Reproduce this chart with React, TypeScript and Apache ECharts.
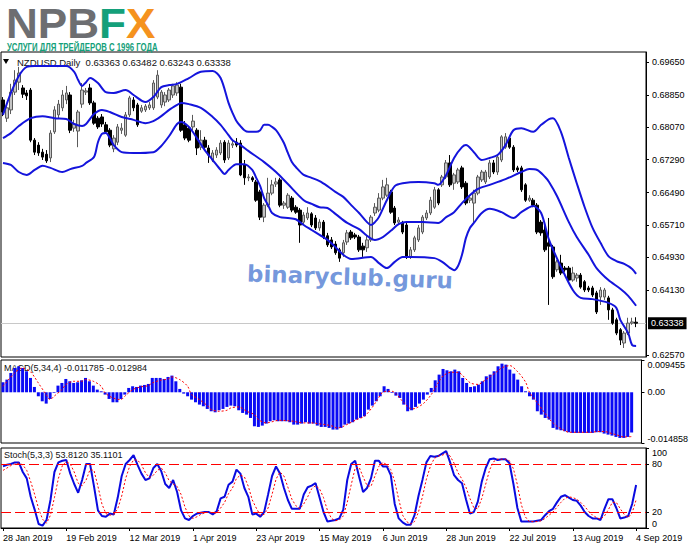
import React, { useEffect, useRef } from "react";
import * as echarts from "echarts";

// ---------- data ----------
const symbolName = "NZDUSD,Daily";
const tickLabels = ["28 Jan 2019", "19 Feb 2019", "12 Mar 2019", "1 Apr 2019", "23 Apr 2019", "15 May 2019", "6 Jun 2019", "28 Jun 2019", "22 Jul 2019", "13 Aug 2019", "4 Sep 2019"];
const SLOTS = 163; // 161 bars + chart shift
const categories = Array.from({ length: SLOTS }, (_, i) =>
  i % 16 === 0 && i / 16 < tickLabels.length ? tickLabels[i / 16] : "#" + i
);

const opens = [
  0.6873, 0.6829, 0.6849, 0.6892, 0.6916, 0.6902, 0.6890, 0.6897, 0.6776, 0.6764,
  0.6747, 0.6742, 0.6733, 0.6796, 0.6837, 0.6854, 0.6873, 0.6885, 0.6805, 0.6798,
  0.6863, 0.6892, 0.6902, 0.6866, 0.6829, 0.6832, 0.6813, 0.6800, 0.6755, 0.6771,
  0.6800, 0.6788, 0.6837, 0.6873, 0.6861, 0.6846, 0.6849, 0.6854, 0.6854, 0.6880,
  0.6861, 0.6868, 0.6873, 0.6885, 0.6890, 0.6904, 0.6813, 0.6805, 0.6808, 0.6800,
  0.6759, 0.6776, 0.6757, 0.6728, 0.6740, 0.6745, 0.6771, 0.6733, 0.6764, 0.6771,
  0.6769, 0.6716, 0.6685, 0.6685, 0.6675, 0.6651, 0.6590, 0.6619, 0.6648, 0.6670,
  0.6680, 0.6619, 0.6614, 0.6636, 0.6614, 0.6607, 0.6578, 0.6588, 0.6598, 0.6588,
  0.6564, 0.6578, 0.6545, 0.6535, 0.6525, 0.6511, 0.6504, 0.6530, 0.6554, 0.6547,
  0.6542, 0.6520, 0.6516, 0.6535, 0.6600, 0.6607, 0.6636, 0.6643, 0.6651, 0.6612,
  0.6578, 0.6576, 0.6571, 0.6494, 0.6511, 0.6535, 0.6554, 0.6588, 0.6600, 0.6614,
  0.6656, 0.6668, 0.6687, 0.6721, 0.6672, 0.6675, 0.6709, 0.6672, 0.6631, 0.6624,
  0.6648, 0.6680, 0.6675, 0.6687, 0.6721, 0.6699, 0.6728, 0.6759, 0.6781, 0.6759,
  0.6709, 0.6709, 0.6668, 0.6631, 0.6631, 0.6619, 0.6578, 0.6559, 0.6528, 0.6518,
  0.6463, 0.6479, 0.6467, 0.6467, 0.6438, 0.6443, 0.6450, 0.6434, 0.6419, 0.6419,
  0.6407, 0.6397, 0.6397, 0.6395, 0.6366, 0.6342, 0.6318, 0.6286, 0.6310, 0.6334,
  0.63363,
];
const closes = [
  0.6844, 0.6854, 0.6892, 0.6921, 0.6938, 0.6887, 0.6883, 0.6776, 0.6747, 0.6745,
  0.6735, 0.6726, 0.6793, 0.6849, 0.6863, 0.6885, 0.6890, 0.6800, 0.6815, 0.6844,
  0.6897, 0.6895, 0.6866, 0.6817, 0.6808, 0.6815, 0.6796, 0.6764, 0.6781, 0.6808,
  0.6805, 0.6837, 0.6878, 0.6854, 0.6813, 0.6854, 0.6858, 0.6861, 0.6914, 0.6933,
  0.6892, 0.6885, 0.6897, 0.6907, 0.6909, 0.6800, 0.6781, 0.6776, 0.6822, 0.6757,
  0.6776, 0.6759, 0.6740, 0.6745, 0.6752, 0.6769, 0.6728, 0.6769, 0.6767, 0.6764,
  0.6692, 0.6685, 0.6687, 0.6680, 0.6631, 0.6590, 0.6619, 0.6648, 0.6668, 0.6675,
  0.6619, 0.6624, 0.6643, 0.6607, 0.6602, 0.6571, 0.6595, 0.6600, 0.6571, 0.6564,
  0.6578, 0.6542, 0.6523, 0.6518, 0.6504, 0.6491, 0.6528, 0.6552, 0.6540, 0.6542,
  0.6511, 0.6511, 0.6535, 0.6590, 0.6614, 0.6636, 0.6663, 0.6668, 0.6602, 0.6576,
  0.6583, 0.6554, 0.6494, 0.6511, 0.6540, 0.6564, 0.6590, 0.6600, 0.6631, 0.6656,
  0.6624, 0.6687, 0.6721, 0.6668, 0.6692, 0.6704, 0.6663, 0.6624, 0.6636, 0.6648,
  0.6687, 0.6699, 0.6699, 0.6721, 0.6699, 0.6735, 0.6784, 0.6784, 0.6759, 0.6704,
  0.6704, 0.6656, 0.6631, 0.6636, 0.6619, 0.6554, 0.6552, 0.6511, 0.6520, 0.6446,
  0.6482, 0.6455, 0.6463, 0.6438, 0.6455, 0.6450, 0.6421, 0.6414, 0.6414, 0.6402,
  0.6361, 0.6414, 0.6414, 0.6366, 0.6334, 0.6310, 0.6293, 0.6310, 0.6334, 0.6337,
  0.63338,
];
const lows = [
  0.6834, 0.6820, 0.6839, 0.6885, 0.6897, 0.6878, 0.6873, 0.6771, 0.6740, 0.6738,
  0.6728, 0.6721, 0.6723, 0.6791, 0.6829, 0.6846, 0.6863, 0.6793, 0.6796, 0.6759,
  0.6854, 0.6885, 0.6861, 0.6813, 0.6803, 0.6808, 0.6791, 0.6759, 0.6747, 0.6764,
  0.6791, 0.6784, 0.6832, 0.6846, 0.6808, 0.6842, 0.6844, 0.6849, 0.6849, 0.6875,
  0.6854, 0.6858, 0.6868, 0.6878, 0.6883, 0.6796, 0.6776, 0.6771, 0.6800, 0.6740,
  0.6752, 0.6752, 0.6721, 0.6723, 0.6733, 0.6740, 0.6721, 0.6728, 0.6757, 0.6759,
  0.6689, 0.6668, 0.6677, 0.6675, 0.6627, 0.6583, 0.6578, 0.6614, 0.6643, 0.6663,
  0.6614, 0.6610, 0.6610, 0.6602, 0.6598, 0.6528, 0.6571, 0.6583, 0.6566, 0.6559,
  0.6557, 0.6537, 0.6518, 0.6513, 0.6499, 0.6482, 0.6494, 0.6523, 0.6535, 0.6537,
  0.6506, 0.6494, 0.6506, 0.6530, 0.6593, 0.6602, 0.6631, 0.6639, 0.6598, 0.6571,
  0.6571, 0.6549, 0.6489, 0.6489, 0.6506, 0.6530, 0.6549, 0.6583, 0.6595, 0.6610,
  0.6619, 0.6663, 0.6682, 0.6663, 0.6656, 0.6670, 0.6658, 0.6619, 0.6624, 0.6576,
  0.6643, 0.6675, 0.6670, 0.6682, 0.6694, 0.6692, 0.6723, 0.6755, 0.6755, 0.6699,
  0.6699, 0.6651, 0.6627, 0.6627, 0.6614, 0.6549, 0.6545, 0.6506, 0.6378, 0.6441,
  0.6458, 0.6450, 0.6458, 0.6434, 0.6434, 0.6434, 0.6417, 0.6409, 0.6409, 0.6397,
  0.6356, 0.6378, 0.6390, 0.6342, 0.6330, 0.6305, 0.6281, 0.6274, 0.6305, 0.6330,
  0.63243,
];
const highs = [
  0.6880, 0.6863, 0.6912, 0.6945, 0.6953, 0.6909, 0.6897, 0.6902, 0.6781, 0.6771,
  0.6755, 0.6752, 0.6800, 0.6858, 0.6873, 0.6897, 0.6907, 0.6892, 0.6825, 0.6849,
  0.6914, 0.6902, 0.6912, 0.6871, 0.6834, 0.6839, 0.6820, 0.6805, 0.6788, 0.6815,
  0.6817, 0.6844, 0.6883, 0.6880, 0.6866, 0.6861, 0.6863, 0.6868, 0.6921, 0.6945,
  0.6897, 0.6892, 0.6902, 0.6912, 0.6916, 0.6912, 0.6822, 0.6810, 0.6837, 0.6805,
  0.6800, 0.6784, 0.6764, 0.6752, 0.6759, 0.6776, 0.6776, 0.6776, 0.6774, 0.6781,
  0.6776, 0.6728, 0.6694, 0.6689, 0.6680, 0.6656, 0.6624, 0.6685, 0.6680, 0.6685,
  0.6685, 0.6629, 0.6648, 0.6641, 0.6619, 0.6612, 0.6602, 0.6614, 0.6602, 0.6595,
  0.6585, 0.6583, 0.6552, 0.6542, 0.6532, 0.6516, 0.6535, 0.6559, 0.6559, 0.6552,
  0.6547, 0.6528, 0.6545, 0.6595, 0.6624, 0.6648, 0.6680, 0.6685, 0.6656, 0.6617,
  0.6590, 0.6581, 0.6576, 0.6518, 0.6545, 0.6571, 0.6595, 0.6607, 0.6639, 0.6663,
  0.6660, 0.6692, 0.6728, 0.6740, 0.6697, 0.6709, 0.6714, 0.6677, 0.6643, 0.6656,
  0.6692, 0.6704, 0.6704, 0.6728, 0.6728, 0.6740, 0.6788, 0.6793, 0.6786, 0.6764,
  0.6714, 0.6714, 0.6672, 0.6643, 0.6636, 0.6624, 0.6583, 0.6576, 0.6588, 0.6523,
  0.6487, 0.6499, 0.6472, 0.6472, 0.6470, 0.6455, 0.6455, 0.6438, 0.6424, 0.6424,
  0.6412, 0.6421, 0.6419, 0.6400, 0.6371, 0.6347, 0.6322, 0.6315, 0.6347, 0.6347,
  0.63482,
];

// Bollinger bands: [bar index, price]
const upperBand = [
  [0, 0.6837], [2, 0.6890], [4, 0.6931], [6, 0.6953], [8, 0.6955], [12, 0.6955], [16, 0.6955], [18, 0.6941],
  [19, 0.6921], [20, 0.6907], [21, 0.6916], [22, 0.6926], [24, 0.6914], [26, 0.6892], [28, 0.6890], [31, 0.6897],
  [33, 0.6885], [36, 0.6868], [38, 0.6880], [40, 0.6904], [42, 0.6909], [44, 0.6912], [47, 0.6926], [50, 0.6941],
  [53, 0.6943], [55, 0.6926], [57, 0.6866], [58, 0.6842], [59, 0.6822], [60, 0.6810], [61, 0.6800], [62, 0.6796],
  [64, 0.6796], [65, 0.6800], [66, 0.6813], [67, 0.6813], [68, 0.6808], [69, 0.6800], [70, 0.6786], [71, 0.6769],
  [72, 0.6745], [73, 0.6723], [74, 0.6711], [76, 0.6692], [78, 0.6685], [80, 0.6677], [82, 0.6665], [84, 0.6651],
  [86, 0.6639], [88, 0.6619], [90, 0.6600], [92, 0.6578], [93, 0.6571], [94, 0.6578], [95, 0.6590], [97, 0.6631],
  [99, 0.6665], [101, 0.6672], [105, 0.6675], [109, 0.6672], [110, 0.6668], [112, 0.6692], [114, 0.6733],
  [116, 0.6759], [117, 0.6764], [119, 0.6747], [121, 0.6728], [123, 0.6733], [125, 0.6740], [127, 0.6764],
  [129, 0.6800], [131, 0.6805], [134, 0.6796], [136, 0.6813], [138, 0.6827], [139, 0.6829], [141, 0.6796],
  [143, 0.6733], [145, 0.6672], [147, 0.6614], [149, 0.6564], [151, 0.6528], [153, 0.6496], [155, 0.6484],
  [157, 0.6477], [159, 0.6465], [160, 0.6453],
];
const middleBand = [
  [0, 0.6781], [2, 0.6793], [4, 0.6810], [7, 0.6829], [10, 0.6834], [13, 0.6829], [16, 0.6827], [18, 0.6815],
  [20, 0.6810], [21, 0.6815], [23, 0.6839], [25, 0.6849], [27, 0.6844], [30, 0.6832], [33, 0.6825], [36, 0.6817],
  [38, 0.6822], [40, 0.6834], [42, 0.6849], [44, 0.6861], [45, 0.6866], [47, 0.6863], [50, 0.6854], [53, 0.6832],
  [55, 0.6813], [57, 0.6788], [58, 0.6776], [60, 0.6764], [62, 0.6750], [66, 0.6723], [69, 0.6699], [72, 0.6670],
  [76, 0.6631], [78, 0.6622], [80, 0.6614], [82, 0.6612], [84, 0.6598], [87, 0.6576], [90, 0.6561], [92, 0.6545],
  [94, 0.6535], [96, 0.6542], [98, 0.6557], [100, 0.6573], [102, 0.6578], [106, 0.6578], [110, 0.6576],
  [112, 0.6590], [114, 0.6602], [116, 0.6624], [118, 0.6643], [120, 0.6658], [123, 0.6668], [127, 0.6682],
  [131, 0.6699], [133, 0.6706], [135, 0.6704], [137, 0.6687], [138, 0.6675], [140, 0.6641], [143, 0.6578],
  [145, 0.6542], [148, 0.6499], [150, 0.6467], [153, 0.6438], [156, 0.6417], [158, 0.6400], [160, 0.6376],
];
const lowerBand = [
  [0, 0.6721], [2, 0.6716], [4, 0.6699], [6, 0.6692], [8, 0.6704], [10, 0.6714], [12, 0.6709], [15, 0.6699],
  [17, 0.6706], [20, 0.6714], [21, 0.6721], [23, 0.6735], [24, 0.6771], [25, 0.6791], [26, 0.6793], [27, 0.6781],
  [28, 0.6764], [30, 0.6747], [33, 0.6745], [38, 0.6747], [40, 0.6762], [42, 0.6786], [44, 0.6815], [45, 0.6820],
  [47, 0.6808], [49, 0.6781], [51, 0.6752], [53, 0.6728], [55, 0.6704], [56, 0.6694], [57, 0.6704], [59, 0.6718],
  [61, 0.6718], [63, 0.6704], [64, 0.6685], [65, 0.6665], [66, 0.6636], [67, 0.6619], [68, 0.6600], [70, 0.6590],
  [72, 0.6588], [74, 0.6585], [76, 0.6571], [78, 0.6559], [80, 0.6547], [82, 0.6535], [84, 0.6518], [86, 0.6499],
  [88, 0.6489], [93, 0.6494], [95, 0.6479], [97, 0.6467], [99, 0.6482], [101, 0.6494], [103, 0.6494],
  [109, 0.6491], [111, 0.6482], [113, 0.6467], [114, 0.6462], [115, 0.6472], [116, 0.6499], [117, 0.6540],
  [118, 0.6564], [119, 0.6576], [121, 0.6600], [123, 0.6610], [126, 0.6602], [129, 0.6588], [131, 0.6602],
  [134, 0.6617], [136, 0.6600], [138, 0.6535], [141, 0.6470], [144, 0.6414], [146, 0.6395], [149, 0.6392],
  [153, 0.6383], [155, 0.6371], [156, 0.6342], [158, 0.6310], [159, 0.6281], [160, 0.6279],
];

const macdMain = [
  0.00293, 0.00371, 0.00566, 0.00712, 0.00761, 0.00712, 0.00615, 0.00420, 0.00156, -0.00117,
  -0.00264, -0.00332, -0.00195, -0.00020, 0.00195, 0.00273, 0.00390, 0.00322, 0.00273, 0.00293,
  0.00351, 0.00420, 0.00322, 0.00195, 0.00078, 0.00029, -0.00068, -0.00195, -0.00293, -0.00293,
  -0.00195, -0.00068, 0.00127, 0.00176, 0.00156, 0.00195, 0.00215, 0.00244, 0.00420, 0.00420,
  0.00420, 0.00390, 0.00449, 0.00488, 0.00322, 0.00098, -0.00039, -0.00117, -0.00215, -0.00293,
  -0.00361, -0.00410, -0.00488, -0.00556, -0.00586, -0.00527, -0.00488, -0.00429, -0.00390, -0.00410,
  -0.00527, -0.00605, -0.00654, -0.00752, -0.00996, -0.01015, -0.00976, -0.00917, -0.00849, -0.00820,
  -0.00849, -0.00849, -0.00849, -0.00878, -0.00947, -0.00947, -0.00917, -0.00878, -0.00917, -0.00917,
  -0.00976, -0.01015, -0.01015, -0.01044, -0.01093, -0.01093, -0.01044, -0.00947, -0.00917, -0.00878,
  -0.00800, -0.00752, -0.00703, -0.00508, -0.00390, -0.00264, -0.00117, 0.00176, 0.00098, -0.00020,
  -0.00098, -0.00166, -0.00361, -0.00556, -0.00527, -0.00429, -0.00332, -0.00215, -0.00068, 0.00127,
  0.00351, 0.00517, 0.00683, 0.00644, 0.00615, 0.00664, 0.00615, 0.00420, 0.00273, 0.00156,
  0.00176, 0.00224, 0.00322, 0.00468, 0.00517, 0.00615, 0.00761, 0.00839, 0.00810, 0.00664,
  0.00547, 0.00371, 0.00176, 0.00029, -0.00117, -0.00215, -0.00556, -0.00654, -0.00752, -0.00800,
  -0.01044, -0.01093, -0.01113, -0.01142, -0.01171, -0.01191, -0.01191, -0.01191, -0.01191, -0.01191,
  -0.01191, -0.01171, -0.01171, -0.01210, -0.01240, -0.01269, -0.01308, -0.01337, -0.01337, -0.01308,
  -0.011785,
];
const macdSignal = [
  [0, 0.00176], [3, 0.00566], [5, 0.00712], [7, 0.00600], [8, 0.00450], [9, 0.00273], [11, -0.00068],
  [12, -0.00215], [13, -0.00117], [15, 0.00078], [16, 0.00224], [18, 0.00322], [20, 0.00322], [21, 0.00371],
  [23, 0.00322], [25, 0.00176], [26, -0.00020], [28, -0.00166], [30, -0.00215], [31, -0.00117], [33, 0.00078],
  [35, 0.00156], [37, 0.00195], [38, 0.00273], [40, 0.00351], [42, 0.00390], [43, 0.00449], [45, 0.00371],
  [47, 0.00176], [48, -0.00068], [50, -0.00215], [52, -0.00390], [53, -0.00508], [55, -0.00556], [57, -0.00527],
  [58, -0.00459], [60, -0.00429], [62, -0.00556], [64, -0.00654], [65, -0.00800], [67, -0.00898], [69, -0.00849],
  [70, -0.00820], [72, -0.00830], [74, -0.00849], [75, -0.00878], [77, -0.00898], [79, -0.00898], [80, -0.00917],
  [82, -0.00947], [84, -0.00996], [85, -0.01044], [86, -0.01030], [88, -0.00917], [90, -0.00800], [92, -0.00703],
  [94, -0.00440], [95, -0.00270], [97, 0.00020], [99, 0.00029], [100, -0.00040], [102, -0.00300], [104, -0.00488],
  [105, -0.00470], [107, -0.00330], [109, -0.00068], [111, 0.00320], [112, 0.00480], [114, 0.00586], [116, 0.00580],
  [117, 0.00490], [119, 0.00273], [121, 0.00230], [122, 0.00300], [124, 0.00460], [126, 0.00630], [127, 0.00720],
  [129, 0.00781], [131, 0.00600], [133, 0.00300], [134, 0.00000], [136, -0.00312], [138, -0.00620], [139, -0.00780],
  [141, -0.00996], [143, -0.01130], [144, -0.01171], [146, -0.01171], [150, -0.01171], [151, -0.01152],
  [153, -0.01150], [155, -0.01210], [156, -0.01240], [158, -0.01308], [160, -0.012984],
];

const stochK = [
  77, 79, 80, 82, 82, 70, 62, 39, 23, 5, 3, 10, 35, 70, 82, 84, 85, 68, 55, 44,
  60, 80, 80, 52, 22, 15, 14, 18, 17, 38, 65, 80, 85, 91, 79, 68, 60, 62, 75, 80,
  71, 55, 50, 60, 45, 22, 12, 10, 15, 18, 19, 20, 20, 17, 21, 37, 39, 54, 58, 73,
  68, 50, 39, 17, 18, 14, 20, 42, 65, 77, 68, 50, 35, 24, 24, 24, 42, 51, 53, 56,
  38, 20, 8, 9, 10, 12, 23, 60, 80, 84, 64, 45, 50, 62, 84, 84, 77, 77, 66, 30,
  12, 7, 4, 4, 16, 40, 60, 82, 90, 89, 90, 93, 96, 82, 66, 60, 56, 36, 18, 20,
  33, 58, 75, 86, 87, 85, 86, 86, 81, 55, 25, 8, 8, 8, 8, 9, 10, 16, 21, 24,
  32, 39, 41, 38, 35, 34, 28, 20, 15, 12, 12, 10, 24, 36, 36, 25, 12, 13, 15, 30,
  53.812,
];
const stochD = [
  72, 75, 78, 80, 81, 79, 72, 58, 42, 24, 11, 6, 16, 38, 62, 78, 83, 80, 70, 56,
  53, 60, 73, 72, 52, 30, 18, 16, 17, 24, 40, 62, 77, 85, 85, 79, 69, 63, 66, 72,
  75, 69, 59, 55, 52, 42, 26, 15, 12, 14, 17, 19, 20, 19, 19, 25, 32, 43, 50, 62,
  66, 64, 52, 35, 25, 16, 17, 25, 42, 61, 70, 65, 51, 36, 28, 24, 30, 39, 49, 53,
  49, 38, 22, 12, 9, 10, 15, 32, 54, 75, 76, 64, 53, 52, 65, 77, 82, 79, 73, 58,
  36, 16, 8, 5, 8, 20, 39, 61, 77, 87, 90, 91, 93, 90, 81, 69, 61, 51, 37, 25,
  24, 37, 55, 73, 83, 86, 86, 86, 84, 74, 54, 29, 14, 8, 8, 8, 9, 12, 16, 20,
  26, 32, 37, 39, 38, 36, 32, 27, 21, 16, 13, 11, 15, 23, 32, 32, 24, 17, 13, 19,
  35.1101,
];

const priceTicks = [0.6257, 0.6413, 0.6493, 0.6571, 0.6649, 0.6729, 0.6807, 0.6885, 0.6965];
const macdTicks = [-0.014858, 0, 0.009455];
const stochTicks = [0, 20, 80, 100];
const stochLevels = [80, 20];

// ---------- chart ----------
const FONT = '"Liberation Sans", Arial, sans-serif';

export default function App() {
  const ref = useRef<HTMLDivElement>(null);

  useEffect(() => {
    if (!ref.current) return;
    const chart = echarts.init(ref.current, null, { renderer: "svg" });
    const last = opens.length - 1;
    const candleData = opens.map((o, i) => [o, closes[i], lows[i], highs[i]]);
    const signalLast = macdSignal[macdSignal.length - 1][1];

    const commonX = (gridIndex: number, showLabels: boolean) => ({
      type: "category",
      gridIndex,
      data: categories,
      boundaryGap: true,
      axisLine: { show: showLabels, lineStyle: { color: "#000", width: 1 } },
      axisTick: { show: showLabels, interval: 15, alignWithLabel: true, length: 3, lineStyle: { color: "#000" } },
      axisLabel: {
        show: showLabels,
        interval: 15,
        align: "left",
        margin: 5,
        fontSize: 9,
        fontFamily: FONT,
        color: "#000",
        formatter: (v: string) => (v.startsWith("#") ? "" : v),
      },
      splitLine: { show: false },
    });

    const logoPart = (fill: string) => ({ fill, fontSize: 42, fontWeight: 900, fontFamily: FONT, lineHeight: 38 });

    const option: any = {
      animation: false,
      backgroundColor: "#ffffff",
      textStyle: { fontFamily: FONT },
      grid: [
        { left: 1, right: 45, top: 52, height: 305, show: true, borderColor: "#000", borderWidth: 1, backgroundColor: "transparent" },
        { left: 1, right: 45, top: 360, height: 83, show: true, borderColor: "#000", borderWidth: 1, backgroundColor: "transparent" },
        { left: 1, right: 45, top: 448, height: 80, show: true, borderColor: "#000", borderWidth: 1, backgroundColor: "transparent" },
      ],
      xAxis: [commonX(0, false), commonX(1, false), commonX(2, true)],
      yAxis: [
        {
          type: "value",
          gridIndex: 0,
          position: "right",
          min: 0.62522,
          max: 0.69889,
          axisLine: { show: true, lineStyle: { color: "#000" } },
          axisTick: { show: true, length: 3, customValues: priceTicks, lineStyle: { color: "#000" } },
          axisLabel: { customValues: priceTicks, formatter: (v: number) => v.toFixed(5), fontSize: 9, color: "#000", margin: 6, fontFamily: FONT },
          splitLine: { show: false },
        },
        {
          type: "value",
          gridIndex: 1,
          position: "right",
          min: -0.014858,
          max: 0.009455,
          axisLine: { show: true, lineStyle: { color: "#000" } },
          axisTick: { show: true, length: 3, customValues: macdTicks, lineStyle: { color: "#000" } },
          axisLabel: {
            customValues: macdTicks,
            formatter: (v: number) => (v === 0 ? "0.00" : v.toFixed(6)),
            fontSize: 9,
            color: "#000",
            margin: 6,
            fontFamily: FONT,
            verticalAlignMinLabel: "bottom",
            verticalAlignMaxLabel: "top",
          },
          splitLine: { show: false },
        },
        {
          type: "value",
          gridIndex: 2,
          position: "right",
          min: 0,
          max: 100,
          axisLine: { show: true, lineStyle: { color: "#000" } },
          axisTick: { show: true, length: 3, customValues: stochTicks, lineStyle: { color: "#000" } },
          axisLabel: {
            customValues: stochTicks,
            fontSize: 9,
            color: "#000",
            margin: 6,
            fontFamily: FONT,
            verticalAlignMinLabel: "bottom",
            verticalAlignMaxLabel: "top",
          },
          splitLine: { show: false },
        },
      ],
      series: [
        {
          type: "candlestick",
          xAxisIndex: 0,
          yAxisIndex: 0,
          data: candleData,
          barWidth: 3,
          itemStyle: { color: "#c4c4c4", color0: "#000000", borderColor: "#5a5a5a", borderColor0: "#000000", borderWidth: 1 },
        },
        { type: "line", xAxisIndex: 0, yAxisIndex: 0, data: upperBand, smooth: 0.3, symbol: "none", lineStyle: { color: "#1414dc", width: 2 } },
        { type: "line", xAxisIndex: 0, yAxisIndex: 0, data: middleBand, smooth: 0.3, symbol: "none", lineStyle: { color: "#1414dc", width: 2 } },
        {
          type: "line",
          xAxisIndex: 0,
          yAxisIndex: 0,
          data: lowerBand,
          smooth: 0.3,
          symbol: "none",
          lineStyle: { color: "#1414dc", width: 2 },
          markLine: {
            silent: true,
            symbol: ["none", "none"],
            precision: 5,
            z: 1,
            data: [{ yAxis: closes[last] }],
            lineStyle: { color: "#c8c8c8", width: 1, type: "solid" },
            label: {
              position: "end",
              formatter: () => closes[last].toFixed(5),
              backgroundColor: "#000",
              color: "#fff",
              fontSize: 9,
              fontFamily: FONT,
              padding: [2, 3, 1, 3],
              distance: 2,
            },
          },
        },
        { type: "bar", xAxisIndex: 1, yAxisIndex: 1, data: macdMain, barWidth: 3, itemStyle: { color: "#0a0af5" } },
        { type: "line", xAxisIndex: 1, yAxisIndex: 1, data: macdSignal, smooth: 0.3, symbol: "none", lineStyle: { color: "#ff0000", width: 1, type: [2, 2] } },
        {
          type: "line",
          xAxisIndex: 2,
          yAxisIndex: 2,
          data: stochK,
          symbol: "none",
          lineStyle: { color: "#0a0ae0", width: 2 },
          markLine: {
            silent: true,
            symbol: ["none", "none"],
            precision: 2,
            label: { show: false },
            lineStyle: { color: "#ff0000", width: 1, type: [10, 4] },
            data: stochLevels.map((v) => ({ yAxis: v })),
          },
        },
        { type: "line", xAxisIndex: 2, yAxisIndex: 2, data: stochD, symbol: "none", lineStyle: { color: "#ff0000", width: 1, type: [2, 2] } },
      ],
      graphic: [
        {
          type: "text",
          x: 6,
          y: 23.5,
          scaleX: 1.05,
          style: {
            text: "{a|NPB}{b|F}{c|X}",
            verticalAlign: "middle",
            font: `900 42px ${FONT}`,
            rich: { a: logoPart("#6d6e71"), b: logoPart("#14a07a"), c: logoPart("#f5921e") },
          },
        },
        {
          type: "text",
          x: 7,
          y: 46.5,
          scaleX: 0.71,
          style: { text: "УСЛУГИ ДЛЯ ТРЕЙДЕРОВ С 1996 ГОДА", fill: "#14a07a", font: `bold 11px ${FONT}`, verticalAlign: "middle" },
        },
        { type: "polygon", shape: { points: [[3, 59], [9, 59], [6, 64]] }, style: { fill: "#000" } },
        {
          type: "text",
          x: 17,
          y: 62,
          style: {
            text: `${symbolName}  ${opens[last].toFixed(5)} ${highs[last].toFixed(5)} ${lows[last].toFixed(5)} ${closes[last].toFixed(5)}`,
            fill: "#111",
            font: `9.5px ${FONT}`,
            verticalAlign: "middle",
          },
        },
        {
          type: "text",
          x: 4,
          y: 368,
          style: { text: `MACD(5,34,4) ${macdMain[last].toFixed(6)} ${signalLast.toFixed(6)}`, fill: "#111", font: `9px ${FONT}`, verticalAlign: "middle" },
        },
        {
          type: "text",
          x: 4,
          y: 455,
          style: { text: `Stoch(5,3,3) ${stochK[last].toFixed(4)} ${stochD[last].toFixed(4)}`, fill: "#111", font: `9px ${FONT}`, verticalAlign: "middle" },
        },
        {
          type: "text",
          x: 350,
          y: 277,
          rotation: -0.035,
          z: 100,
          style: { text: "binaryclub.guru", fill: "rgba(92,134,214,0.85)", font: 'bold 23px "DejaVu Sans", sans-serif', align: "center", verticalAlign: "middle" },
        },
      ],
    };
    chart.setOption(option);
    return () => chart.dispose();
  }, []);

  return (
    <div
      ref={ref}
      style={{ position: "fixed", left: 0, top: 0, width: 691, height: 549, background: "#fff" }}
    />
  );
}
